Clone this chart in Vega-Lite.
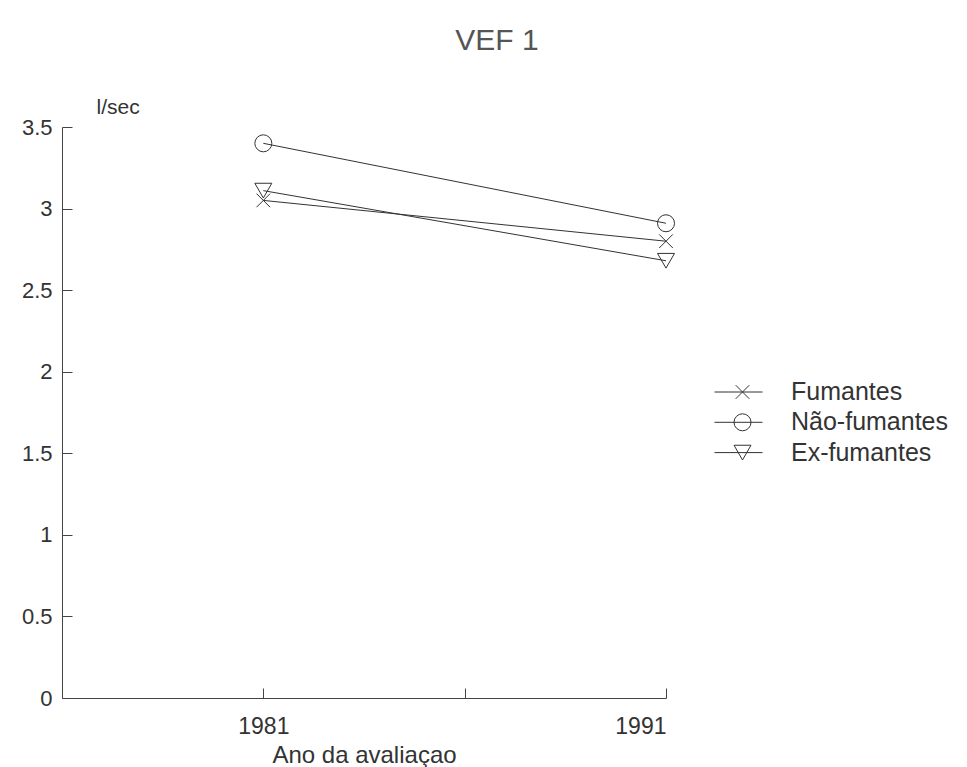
{
  "$schema": "https://vega.github.io/schema/vega-lite/v6.json",
  "width": 604,
  "height": 571,
  "autosize": "none",
  "padding": {"left": 62, "top": 127, "right": 301, "bottom": 69},
  "background": "white",
  "title": {
    "text": "VEF 1",
    "font": "Liberation Sans",
    "fontSize": 30,
    "fontWeight": "normal",
    "color": "#555555",
    "anchor": "middle",
    "dx": 133,
    "offset": 40
  },
  "data": {
    "values": [
      {"ano": 1981, "grupo": "Fumantes", "vef": 3.05},
      {"ano": 1991, "grupo": "Fumantes", "vef": 2.80},
      {"ano": 1981, "grupo": "Não-fumantes", "vef": 3.40},
      {"ano": 1991, "grupo": "Não-fumantes", "vef": 2.91},
      {"ano": 1981, "grupo": "Ex-fumantes", "vef": 3.11},
      {"ano": 1991, "grupo": "Ex-fumantes", "vef": 2.68}
    ]
  },
  "encoding": {
    "x": {
      "field": "ano",
      "type": "quantitative",
      "scale": {"domain": [1976, 1991], "nice": false, "zero": false},
      "axis": {
        "title": "Ano da avaliaçao",
        "values": [1981, 1986, 1991],
        "format": "d",
        "labelExpr": "datum.value == 1986 ? '' : datum.label",
        "grid": false,
        "tickSize": -10,
        "labelPadding": 27,
        "labelFontSize": 23,
        "titleFontSize": 24,
        "titlePadding": 5
      }
    },
    "y": {
      "field": "vef",
      "type": "quantitative",
      "scale": {"domain": [0, 3.5], "nice": false},
      "axis": {
        "title": "l/sec",
        "values": [0, 0.5, 1, 1.5, 2, 2.5, 3, 3.5],
        "format": "~g",
        "grid": false,
        "tickSize": -10,
        "labelPadding": 20,
        "labelFontSize": 22,
        "titleFontSize": 21,
        "titleAngle": 0,
        "titleAlign": "left",
        "titleBaseline": "alphabetic",
        "titleAnchor": "end",
        "titleX": 34,
        "titleY": -14
      }
    }
  },
  "layer": [
    {
      "mark": {"type": "line", "strokeWidth": 1},
      "encoding": {
        "color": {
          "field": "grupo",
          "type": "nominal",
          "scale": {"range": ["#333333", "#333333", "#333333"]},
          "legend": {
            "title": null,
            "orient": "none",
            "legendX": 652,
            "legendY": 250,
            "padding": 0,
            "symbolType": "stroke",
            "symbolSize": 2304,
            "symbolStrokeWidth": 1,
            "clipHeight": 30,
            "rowPadding": 0.3,
            "labelExpr": "''",
            "labelFontSize": 25
          }
        }
      }
    },
    {
      "mark": {"type": "point", "filled": false, "size": 289, "color": "#333333", "strokeWidth": 1, "opacity": 1},
      "encoding": {
        "shape": {
          "field": "grupo",
          "type": "nominal",
          "scale": {
            "domain": ["Fumantes", "Não-fumantes", "Ex-fumantes"],
            "range": ["M-0.8,-0.8L0.8,0.8M-0.8,0.8L0.8,-0.8", "circle", "triangle-down"]
          },
          "legend": {
            "title": null,
            "orient": "none",
            "legendX": 668,
            "legendY": 250,
            "padding": 0,
            "symbolSize": 289,
            "symbolStrokeWidth": 1,
            "symbolStrokeColor": "#333333",
            "clipHeight": 30,
            "labelOffset": 36,
            "rowPadding": 0.3,
            "labelFont": "Liberation Sans",
            "labelFontSize": 25,
            "labelColor": "#333333"
          }
        }
      }
    }
  ],
  "config": {
    "view": {"stroke": null},
    "font": "Liberation Sans",
    "axis": {
      "domainColor": "#444444",
      "tickColor": "#444444",
      "labelFont": "Liberation Sans",
      "labelColor": "#333333",
      "titleFont": "Liberation Sans",
      "titleFontWeight": "normal",
      "titleColor": "#333333"
    }
  }
}
